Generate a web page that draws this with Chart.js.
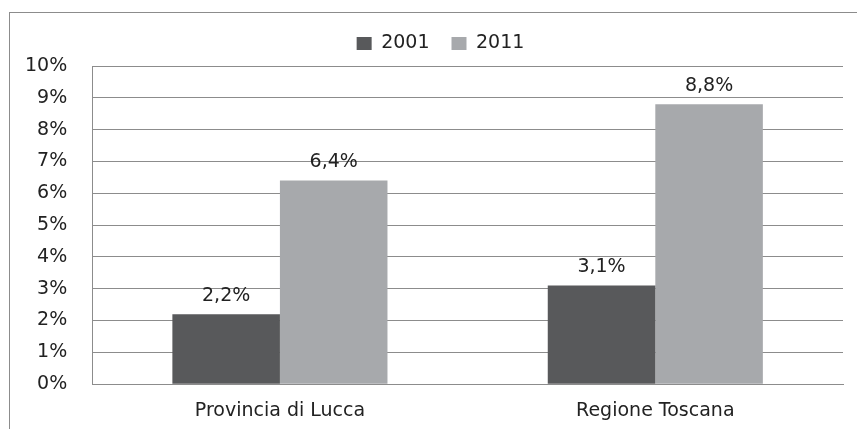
<!DOCTYPE html>
<html>
<head>
<meta charset="utf-8">
<script src="https://cdn.jsdelivr.net/npm/chart.js@4"></script>
<style>
  html, body { margin: 0; padding: 0; background: #fff; overflow: hidden; }
  #frame { position: absolute; left: 9px; top: 12px; width: 848px; height: 417px;
           border-top: 1px solid #8c8c8c; border-left: 1px solid #8c8c8c; }
  #wrap { position: absolute; left: 0; top: 0; width: 857px; height: 437px; }
</style>
</head>
<body>
<div id="frame"></div>
<div id="wrap"><canvas id="monGraphe"></canvas></div>
<script>
// categorie e serie
var categorie = ["Provincia di Lucca", "Regione Toscana"];
var anni = ["2001", "2011"];
var valori2001 = [2.2, 3.1];
var valori2011 = [6.4, 8.8];
var etichetteY = ["0%", "1%", "2%", "3%", "4%", "5%", "6%", "7%", "8%", "9%", "10%"];

var coloreScuro = "#58595b";
var coloreChiaro = "#a7a9ac";
var font = "'DejaVu Sans'";

// etichette sopra le barre
var etichetteBarre = {
  id: "etichetteBarre",
  afterDatasetsDraw: function(chart) {
    var ctx = chart.ctx;
    ctx.save();
    ctx.font = "19px " + font;
    ctx.fillStyle = "#222";
    ctx.textAlign = "center";
    ctx.textBaseline = "middle";
    chart.data.datasets.forEach(function(ds, i) {
      chart.getDatasetMeta(i).data.forEach(function(bar, j) {
        var txt = ds.data[j].toFixed(1).replace(".", ",") + "%";
        ctx.fillText(txt, bar.x, bar.y - 18);
      });
    });
    ctx.restore();
  }
};

// legenda un po' spostata a destra
var spostaLegenda = {
  id: "spostaLegenda",
  afterLayout: function(chart) {
    if (chart.legend) {
      chart.legend.left += 19;
      chart.legend.right += 19;
    }
  }
};

var ctx = document.getElementById("monGraphe");
var myChart = new Chart(ctx, {
  type: "bar",
  plugins: [etichetteBarre, spostaLegenda],
  data: {
    labels: categorie,
    datasets: [
      { label: anni[0], data: valori2001, backgroundColor: coloreScuro, borderWidth: 0 },
      { label: anni[1], data: valori2011, backgroundColor: coloreChiaro, borderWidth: 0 }
    ]
  },
  options: {
    responsive: true,
    maintainAspectRatio: false,
    animation: false,
    layout: { padding: { left: 0, right: 14, top: 12, bottom: 0 } },
    datasets: { bar: { categoryPercentage: 0.573, barPercentage: 1.0 } },
    plugins: {
      tooltip: { enabled: false },
      legend: {
        position: "top",
        labels: {
          boxWidth: 15, boxHeight: 13, color: "#222",
          font: { family: font, size: 19 },
          padding: 22
        }
      }
    },
    scales: {
      x: {
        grid: { display: false, drawTicks: false },
        border: { display: true, color: "#8c8c8c" },
        ticks: { color: "#222", padding: 15, font: { family: font, size: 19 } }
      },
      y: {
        min: 0, max: 10,
        ticks: {
          stepSize: 1, color: "#222", padding: 25,
          font: { family: font, size: 19 },
          callback: function(v) { return etichetteY[v]; }
        },
        grid: { color: "#8c8c8c", drawTicks: false },
        border: { display: true, color: "#8c8c8c" }
      }
    }
  }
});

// la legenda occupa meno spazio in altezza
var fitOrig = myChart.legend.fit;
myChart.legend.fit = function() {
  fitOrig.call(this);
  this.height = 54;
};
myChart.update();
</script>
</body>
</html>
